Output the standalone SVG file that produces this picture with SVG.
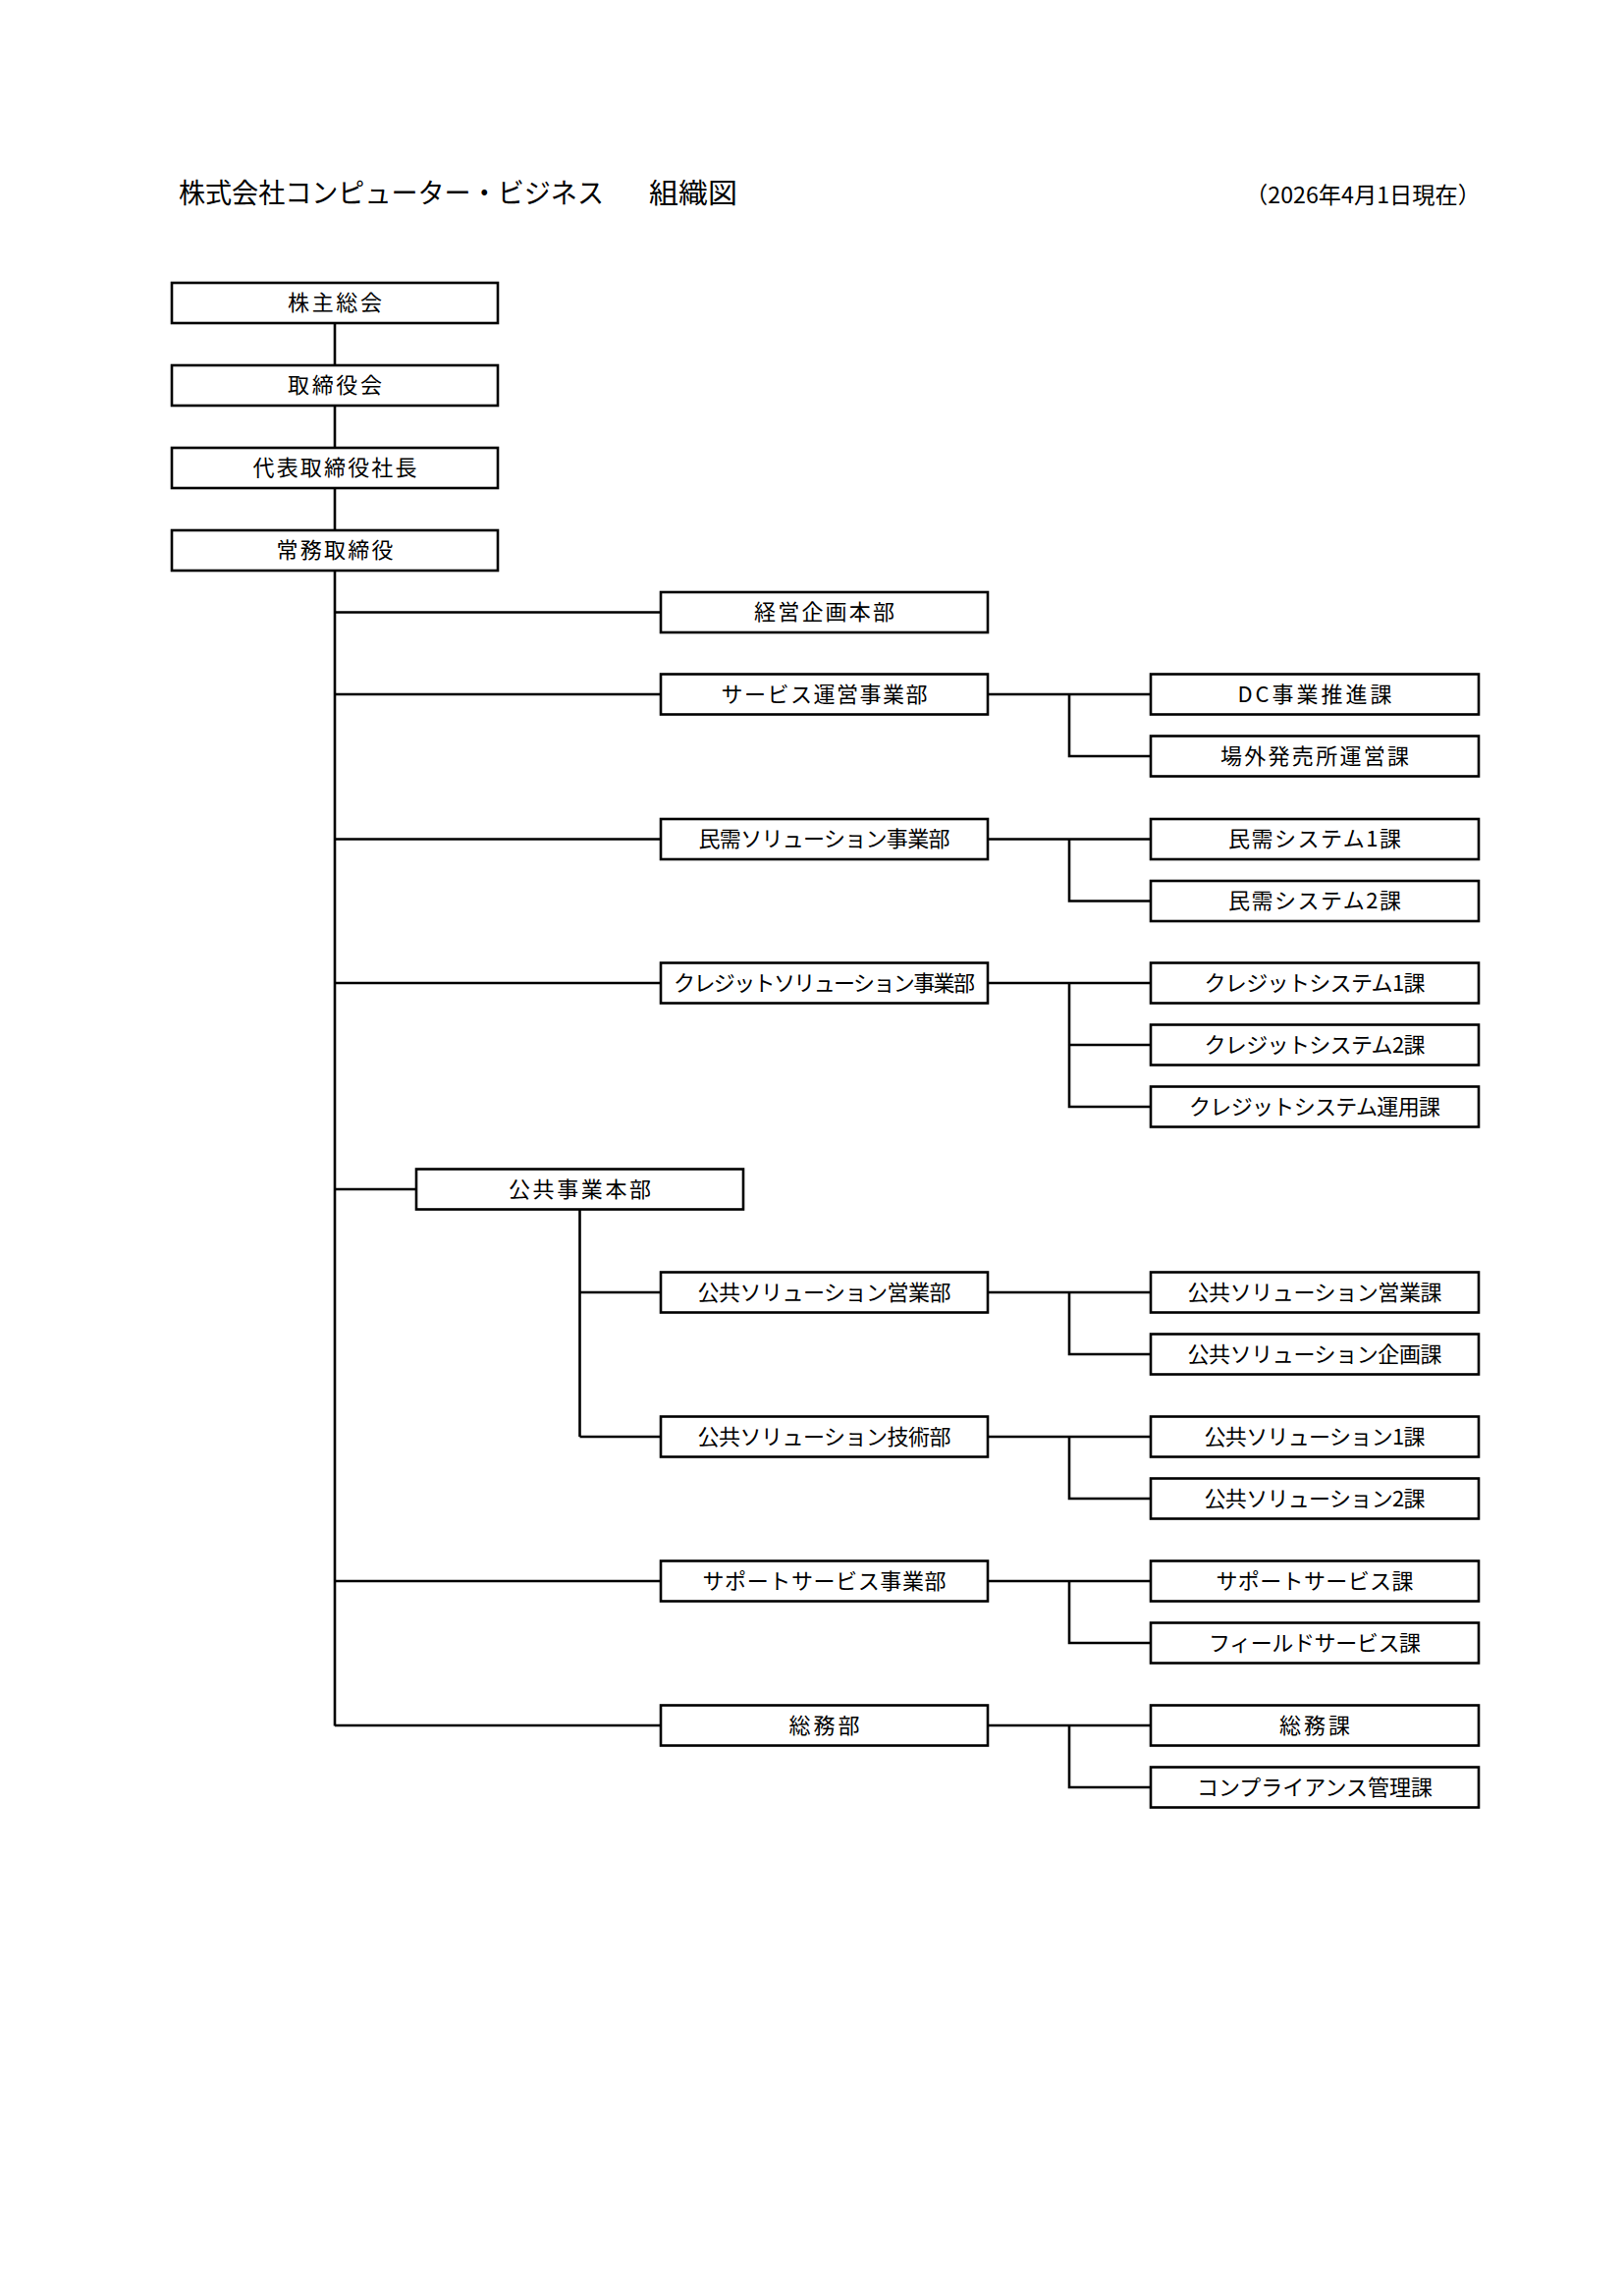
<svg xmlns="http://www.w3.org/2000/svg" width="1654" height="2338" viewBox="0 0 1654 2338">
<style>
  .bg{fill:#fff}
  .box{fill:#fff;stroke:#000;stroke-width:2.6}
  .ln{fill:none;stroke:#000;stroke-width:2.6}
  text{font-family:"Noto Sans CJK JP","Noto Sans",sans-serif;fill:#000}
  .t{font-size:22px;text-anchor:middle}
  .title{font-size:28px}
  .date{font-size:23px}
</style>
<rect class="bg" x="0" y="0" width="1654" height="2338"/>
<text class="title" y="207"><tspan x="182" textLength="433" lengthAdjust="spacingAndGlyphs">株式会社コンピューター・ビジネス</tspan><tspan x="661" textLength="90" lengthAdjust="spacingAndGlyphs">組織図</tspan></text>
<text class="date" x="1268" y="207" textLength="240" lengthAdjust="spacingAndGlyphs">（2026年4月1日現在）</text>

<g id="connectors">
  <path class="ln" d="M341 329V540M341 581V1757.5"/>
  <path class="ln" d="M341 623.5H673M341 707H673M341 854.5H673M341 1001H673M341 1211H424M341 1610H673M341 1757H673"/>
  <path class="ln" d="M590.5 1232V1463M590.5 1316H673M590.5 1463H673"/>
  <path class="ln" d="M1006 707H1172M1089 707V770H1172"/>
  <path class="ln" d="M1006 854.5H1172M1089 854.5V917.5H1172"/>
  <path class="ln" d="M1006 1001H1172M1089 1001V1127H1172M1089 1064H1172"/>
  <path class="ln" d="M1006 1316H1172M1089 1316V1379H1172"/>
  <path class="ln" d="M1006 1463H1172M1089 1463V1526H1172"/>
  <path class="ln" d="M1006 1610H1172M1089 1610V1673H1172"/>
  <path class="ln" d="M1006 1757H1172M1089 1757V1820H1172"/>
</g>

<g id="n-kabunushi"><rect class="box" x="175" y="288" width="332" height="41"/><text class="t" x="341" y="316" textLength="96">株主総会</text></g>
<g id="n-torishimariyakukai"><rect class="box" x="175" y="372" width="332" height="41"/><text class="t" x="341" y="400" textLength="96">取締役会</text></g>
<g id="n-shacho"><rect class="box" x="175" y="456" width="332" height="41"/><text class="t" x="341" y="484" textLength="167">代表取締役社長</text></g>
<g id="n-jomu"><rect class="box" x="175" y="540" width="332" height="41"/><text class="t" x="341" y="568" textLength="119">常務取締役</text></g>

<g id="n-keiei"><rect class="box" x="673" y="603" width="333" height="41"/><text class="t" x="839.5" y="631" textLength="143">経営企画本部</text></g>
<g id="n-service"><rect class="box" x="673" y="686.5" width="333" height="41"/><text class="t" x="839.5" y="714.5" textLength="210">サービス運営事業部</text></g>
<g id="n-minju"><rect class="box" x="673" y="834" width="333" height="41"/><text class="t" x="839.5" y="862" textLength="256">民需ソリューション事業部</text></g>
<g id="n-credit"><rect class="box" x="673" y="980.5" width="333" height="41"/><text class="t" x="839.5" y="1008.5" textLength="307">クレジットソリューション事業部</text></g>
<g id="n-kokyo-hq"><rect class="box" x="424" y="1190.5" width="333" height="41"/><text class="t" x="590.5" y="1218.5" textLength="145">公共事業本部</text></g>
<g id="n-kokyo-eigyo"><rect class="box" x="673" y="1295.5" width="333" height="41"/><text class="t" x="839.5" y="1323.5" textLength="258">公共ソリューション営業部</text></g>
<g id="n-kokyo-gijutsu"><rect class="box" x="673" y="1442.5" width="333" height="41"/><text class="t" x="839.5" y="1470.5" textLength="258">公共ソリューション技術部</text></g>
<g id="n-support"><rect class="box" x="673" y="1589.5" width="333" height="41"/><text class="t" x="839.5" y="1617.5" textLength="248">サポートサービス事業部</text></g>
<g id="n-somu"><rect class="box" x="673" y="1736.5" width="333" height="41"/><text class="t" x="839.5" y="1764.5" textLength="72">総務部</text></g>

<g id="n-dc"><rect class="box" x="1172" y="686.5" width="334" height="41"/><text class="t" x="1339" y="714.5" textLength="157">DC事業推進課</text></g>
<g id="n-jogai"><rect class="box" x="1172" y="749.5" width="334" height="41"/><text class="t" x="1339" y="777.5" textLength="192">場外発売所運営課</text></g>
<g id="n-minju1"><rect class="box" x="1172" y="834" width="334" height="41"/><text class="t" x="1339" y="862" textLength="176">民需システム1課</text></g>
<g id="n-minju2"><rect class="box" x="1172" y="897" width="334" height="41"/><text class="t" x="1339" y="925" textLength="176">民需システム2課</text></g>
<g id="n-credit1"><rect class="box" x="1172" y="980.5" width="334" height="41"/><text class="t" x="1339" y="1008.5" textLength="225">クレジットシステム1課</text></g>
<g id="n-credit2"><rect class="box" x="1172" y="1043.5" width="334" height="41"/><text class="t" x="1339" y="1071.5" textLength="225">クレジットシステム2課</text></g>
<g id="n-credit-unyo"><rect class="box" x="1172" y="1106.5" width="334" height="41"/><text class="t" x="1339" y="1134.5" textLength="256">クレジットシステム運用課</text></g>
<g id="n-kokyo-eigyoka"><rect class="box" x="1172" y="1295.5" width="334" height="41"/><text class="t" x="1339" y="1323.5" textLength="259">公共ソリューション営業課</text></g>
<g id="n-kokyo-kikaku"><rect class="box" x="1172" y="1358.5" width="334" height="41"/><text class="t" x="1339" y="1386.5" textLength="259">公共ソリューション企画課</text></g>
<g id="n-kokyo1"><rect class="box" x="1172" y="1442.5" width="334" height="41"/><text class="t" x="1339" y="1470.5" textLength="225">公共ソリューション1課</text></g>
<g id="n-kokyo2"><rect class="box" x="1172" y="1505.5" width="334" height="41"/><text class="t" x="1339" y="1533.5" textLength="225">公共ソリューション2課</text></g>
<g id="n-support-ka"><rect class="box" x="1172" y="1589.5" width="334" height="41"/><text class="t" x="1339" y="1617.5" textLength="201">サポートサービス課</text></g>
<g id="n-field"><rect class="box" x="1172" y="1652.5" width="334" height="41"/><text class="t" x="1339" y="1680.5" textLength="216">フィールドサービス課</text></g>
<g id="n-somuka"><rect class="box" x="1172" y="1736.5" width="334" height="41"/><text class="t" x="1339" y="1764.5" textLength="72">総務課</text></g>
<g id="n-compliance"><rect class="box" x="1172" y="1799.5" width="334" height="41"/><text class="t" x="1339" y="1827.5" textLength="240">コンプライアンス管理課</text></g>
</svg>
